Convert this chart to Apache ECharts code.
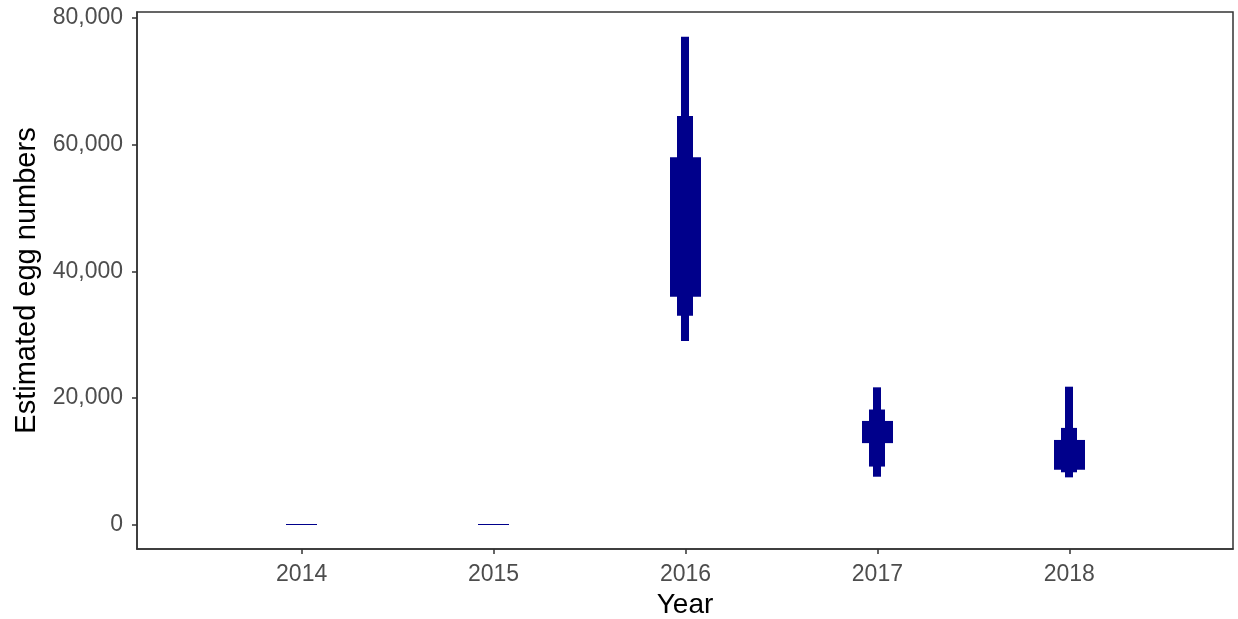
<!DOCTYPE html>
<html>
<head>
<meta charset="utf-8">
<script src="https://cdn.jsdelivr.net/npm/echarts@6/dist/echarts.min.js"></script>
<style>
  html, body { margin: 0; padding: 0; background: #ffffff; }
  #chart { width: 1238px; height: 619px; }
</style>
</head>
<body>
<div id="chart"></div>
<script>
// Estimated egg numbers per year, drawn as nested credible intervals
const years = [2014, 2015, 2016, 2017, 2018];
const lo95 = [0, 0, 29000, 7600, 7500];
const hi95 = [0, 0, 77000, 21700, 21800];
const lo80 = [0, 0, 33000, 9200, 8300];
const hi80 = [0, 0, 64500, 18200, 15300];
const lo50 = [0, 0, 36000, 12900, 8700];
const hi50 = [0, 0, 58000, 16400, 13400];
const yTicks = [0, 20000, 40000, 60000, 80000];

const FILL = '#00008B';
const FONT = '"Liberation Sans", Arial, sans-serif';

const data = years.map((y, i) => [y, lo95[i], hi95[i], lo80[i], hi80[i], lo50[i], hi50[i]]);

// bar half-widths in pixels for the 95 %, 80 % and 50 % ranges
const halfWidths = [4, 8, 15.5];

function renderItem(params, api) {
  const x = api.value(0);
  const children = [];
  for (let k = 0; k < 3; k++) {
    const lo = api.coord([x, api.value(1 + 2 * k)]);
    const hi = api.coord([x, api.value(2 + 2 * k)]);
    const top = Math.min(lo[1], hi[1]);
    let h = Math.abs(lo[1] - hi[1]);
    let y0 = top;
    if (h < 1) { h = 1; y0 = Math.floor(top); }
    children.push({
      type: 'rect',
      shape: { x: Math.round(lo[0] - halfWidths[k]), y: y0, width: halfWidths[k] * 2, height: h },
      style: { fill: FILL }
    });
  }
  return { type: 'group', children: children };
}

const chart = echarts.init(document.getElementById('chart'), null, { renderer: 'canvas' });
chart.setOption({
  animation: false,
  backgroundColor: '#ffffff',
  grid: {
    left: 137, right: 5, top: 12, bottom: 70,
    containLabel: false,
    outerBoundsMode: 'none',
    show: true, borderColor: '#333333', borderWidth: 1.5, backgroundColor: '#ffffff'
  },
  xAxis: {
    type: 'value',
    min: 2013.142, max: 2018.853,
    name: 'Year',
    nameLocation: 'middle',
    nameGap: 42,
    nameTextStyle: { color: '#000000', fontSize: 28, fontFamily: FONT },
    splitLine: { show: false },
    axisLine: { show: true, onZero: false, lineStyle: { color: '#333333', width: 1.5 } },
    axisTick: { show: true, length: 5, lineStyle: { color: '#333333', width: 1.5 }, customValues: years },
    axisLabel: {
      color: '#4D4D4D', fontSize: 23, fontFamily: FONT, margin: 14,
      customValues: years,
      formatter: v => String(Math.round(v))
    }
  },
  yAxis: {
    type: 'value',
    min: -3800, max: 80900,
    name: 'Estimated egg numbers',
    nameLocation: 'middle',
    nameGap: 87,
    nameTextStyle: { color: '#000000', fontSize: 29, fontFamily: FONT },
    splitLine: { show: false },
    axisLine: { show: true, onZero: false, lineStyle: { color: '#333333', width: 1.5 } },
    axisTick: { show: true, length: 5, lineStyle: { color: '#333333', width: 1.5 }, customValues: yTicks },
    axisLabel: {
      color: '#4D4D4D', fontSize: 23, fontFamily: FONT, margin: 14,
      customValues: yTicks,
      formatter: v => Math.round(v).toLocaleString('en-US')
    }
  },
  series: [{
    type: 'custom',
    renderItem: renderItem,
    data: data,
    encode: { x: 0, y: [1, 2, 3, 4, 5, 6] },
    clip: true
  }]
});
</script>
</body>
</html>
